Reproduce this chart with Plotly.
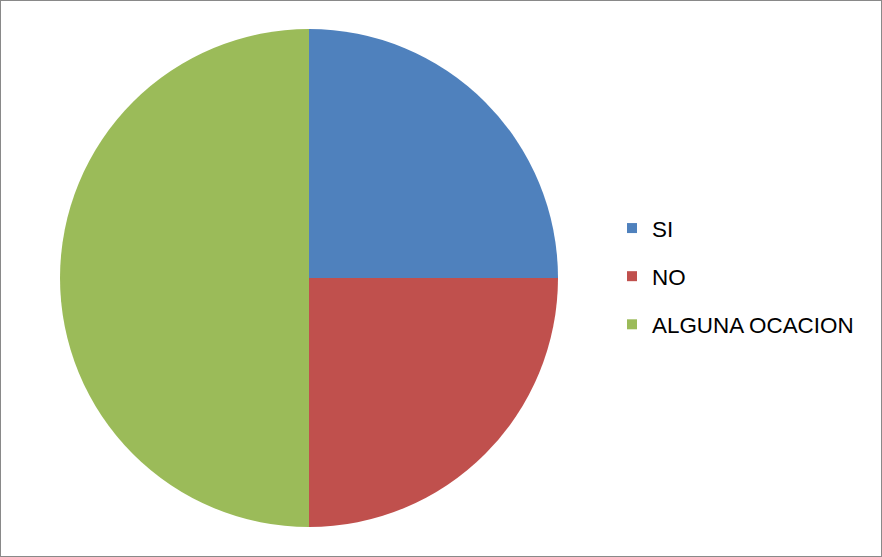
import plotly.graph_objects as go

categories = ["SI", "NO", "ALGUNA OCACION"]
values = [25, 25, 50]
colors = ["#4F81BD", "#C0504D", "#9BBB59"]

W, H = 882, 557

fig = go.Figure()
fig.add_trace(go.Pie(
    labels=categories,
    values=values,
    marker=dict(colors=colors, line=dict(width=0)),
    sort=False,
    direction="clockwise",
    rotation=0,
    textinfo="none",
    hoverinfo="label+value+percent",
    showlegend=False,
    domain=dict(x=[60 / W, 558 / W], y=[1 - 527 / H, 1 - 29 / H]),
))

# legend entries, one group per category so the gap between rows can be set
for name, col in zip(categories, colors):
    fig.add_trace(go.Scatter(
        x=[None], y=[None], mode="markers", name=name, legendgroup=name,
        marker=dict(symbol="square", size=10, color=col),
        hoverinfo="skip",
    ))

fig.update_layout(
    width=W, height=H,
    margin=dict(l=0, r=0, t=0, b=0),
    paper_bgcolor="white",
    plot_bgcolor="white",
    xaxis=dict(visible=False),
    yaxis=dict(visible=False),
    font=dict(family="Liberation Sans, Arial, sans-serif", color="#000000"),
    legend=dict(
        x=(652 - 40) / W, xanchor="left",
        y=0.5 + 2 / H, yanchor="middle",
        font=dict(size=22.4, color="#000000"),
        tracegroupgap=16,
        bgcolor="rgba(0,0,0,0)",
    ),
    shapes=[dict(
        type="rect", xref="paper", yref="paper",
        x0=0, y0=0, x1=1, y1=1,
        line=dict(color="#898989", width=2),
    )],
)

fig.write_html("out.html")
